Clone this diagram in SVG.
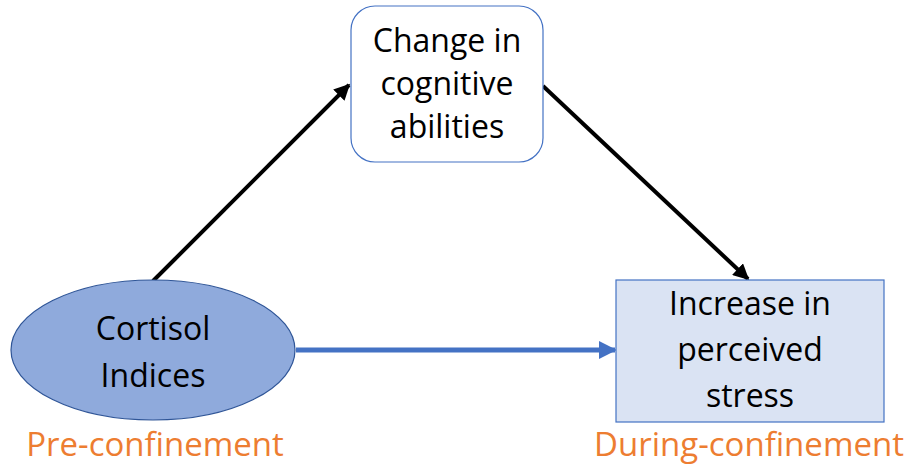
<svg xmlns="http://www.w3.org/2000/svg" width="915" height="470" viewBox="0 0 915 470">
  <style>
    .lbl { font-family: "Open Sans", "Noto Sans", "Liberation Sans", sans-serif; font-size: 32px; fill: #000; text-anchor: middle; }
    .phase { font-family: "Open Sans", "Noto Sans", "Liberation Sans", sans-serif; font-size: 33px; fill: #ed7d31; text-anchor: middle; }
    .edge { stroke: #000; stroke-width: 4; fill: none; }
    .edge-blue { stroke: #4472c4; stroke-width: 5; fill: none; }
  </style>
  <defs>
    <marker id="arrowBlack" viewBox="0 0 10 10" refX="9" refY="5" markerWidth="4" markerHeight="4" orient="auto" markerUnits="strokeWidth">
      <path d="M0,0 L10,5 L0,10 z" fill="#000"/>
    </marker>
    <marker id="arrowBlue" viewBox="0 0 10 10" refX="9" refY="5" markerWidth="3.6" markerHeight="3.6" orient="auto" markerUnits="strokeWidth">
      <path d="M0,0 L10,5 L0,10 z" fill="#4472c4"/>
    </marker>
  </defs>

  <g id="connectors">
    <line class="edge" x1="153" y1="281" x2="349" y2="85" marker-end="url(#arrowBlack)"/>
    <line class="edge" x1="543" y1="86" x2="748" y2="279" marker-end="url(#arrowBlack)"/>
    <line class="edge-blue" x1="296" y1="350" x2="615" y2="350" marker-end="url(#arrowBlue)"/>
  </g>

  <g id="node-cortisol">
    <ellipse cx="153" cy="350" rx="142" ry="70" fill="#8faadc" stroke="#2f5597" stroke-width="1.2"/>
    <text class="lbl" x="153" y="340">Cortisol</text>
    <text class="lbl" x="153" y="387">Indices</text>
    <text class="phase" x="155" y="456">Pre-confinement</text>
  </g>

  <g id="node-cognitive">
    <rect x="351" y="6" width="192" height="156" rx="24" ry="24" fill="#fff" stroke="#4472c4" stroke-width="1.2"/>
    <text class="lbl" x="447" y="52">Change in</text>
    <text class="lbl" x="447" y="95">cognitive</text>
    <text class="lbl" x="447" y="138">abilities</text>
  </g>

  <g id="node-stress">
    <rect x="616" y="280" width="268" height="142" fill="#dae3f3" stroke="#4472c4" stroke-width="1.2"/>
    <text class="lbl" x="750" y="315">Increase in</text>
    <text class="lbl" x="750" y="361">perceived</text>
    <text class="lbl" x="750" y="407">stress</text>
    <text class="phase" x="749" y="456">During-confinement</text>
  </g>
</svg>
